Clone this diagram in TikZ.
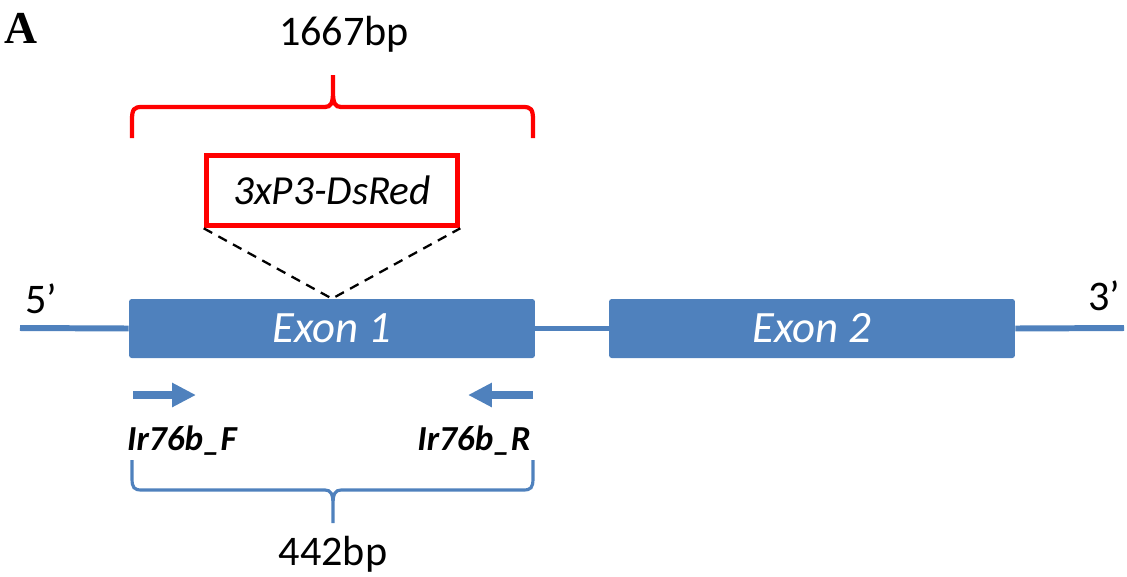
\documentclass[tikz,border=0pt]{standalone}
\usepackage{fontspec}
\setmainfont{Carlito}
\newfontfamily\panelfont{Liberation Serif}
\usetikzlibrary{arrows.meta, positioning, calc}
\definecolor{exonblue}{HTML}{4F81BD}
\definecolor{boxred}{HTML}{FF0000}

\begin{document}
\begin{tikzpicture}[x=0.02cm, y=-0.02cm,
    exon/.style={fill=exonblue, draw=none, rounded corners=1.5pt, inner sep=0pt,
      minimum width=8.12cm, minimum height=1.18cm, text=white,
      font=\fontsize{25.5}{30}\selectfont\itshape},
    dsred/.style={draw=boxred, line width=3.2pt, inner sep=0pt,
      minimum width=5.02cm, minimum height=1.4cm,
      font=\fontsize{23.5}{28}\selectfont\itshape},
    gene/.style={exonblue, line width=3.4pt},
    primer/.style={exonblue, line width=4.5pt, -{Triangle[length=13.6pt, width=13pt]}},
    insert/.style={black, line width=1.3pt, dash pattern=on 5.5pt off 4pt},
    redbrace/.style={boxred, line width=2.4pt},
    bluebrace/.style={exonblue, line width=1.8pt},
    lbl/.style={font=\fontsize{24}{28}\selectfont, inner sep=0pt, anchor=base},
    primerlbl/.style={font=\fontsize{20}{24}\selectfont\bfseries\itshape, inner sep=0pt, anchor=base}
  ]
  \useasboundingbox (0,0) rectangle (1127,576);

  % panel letter
  \node[anchor=base, inner sep=0pt, font=\fontsize{26}{30}\selectfont\panelfont\bfseries] (panel) at (21,43) {A};

  % exons and gene line
  \node[exon] (exon1) at (332,328.5) {Exon 1};
  \node[exon] (exon2) at (812,328.5) {Exon 2};
  \coordinate (genestart) at (20,328);
  \coordinate (geneend) at (1124,328);
  \draw[gene] (genestart) -- (exon1.west);
  \draw[gene] (exon1.east) -- (exon2.west);
  \draw[gene] (exon2.east) -- (geneend);
  \node[lbl] (five) at (41,313) {5’};
  \node[lbl] (three) at (1104,310) {3’};

  % insertion cassette
  \node[dsred] (dsred) at (332,190.5) {3xP3-DsRed};
  \draw[insert] (dsred.south west) -- (exon1.north) -- (dsred.south east);

  % 1667bp brace
  \draw[redbrace] (132,138) -- (132,120) .. controls (132,109) and (134,107) .. (142,107)
    -- (325,107) .. controls (331,107) and (333,103) .. (333,92) -- (333,75)
    -- (333,92) .. controls (333,103) and (335,107) .. (341,107)
    -- (523,107) .. controls (531,107) and (533,109) .. (533,120) -- (533,138);
  \node[lbl] (len1) at (344,45) {1667bp};

  % primers
  \coordinate (fwdstart) at (133,395);
  \coordinate (fwdend) at (196,395);
  \coordinate (revstart) at (533,395);
  \coordinate (revend) at (468,395);
  \draw[primer] (fwdstart) -- (fwdend);
  \draw[primer] (revstart) -- (revend);
  \node[primerlbl] (fwd) at (182,450) {Ir76b\_F};
  \node[primerlbl] (rev) at (474,450) {Ir76b\_R};

  % 442bp brace
  \draw[bluebrace] (132,460) -- (132,478) .. controls (132,488) and (134,490) .. (142,490)
    -- (325,490) .. controls (331,490) and (333,494) .. (333,505) -- (333,523)
    -- (333,505) .. controls (333,494) and (335,490) .. (341,490)
    -- (523,490) .. controls (531,490) and (533,488) .. (533,478) -- (533,460);
  \node[lbl] (len2) at (333,565) {442bp};
\end{tikzpicture}
\end{document}
